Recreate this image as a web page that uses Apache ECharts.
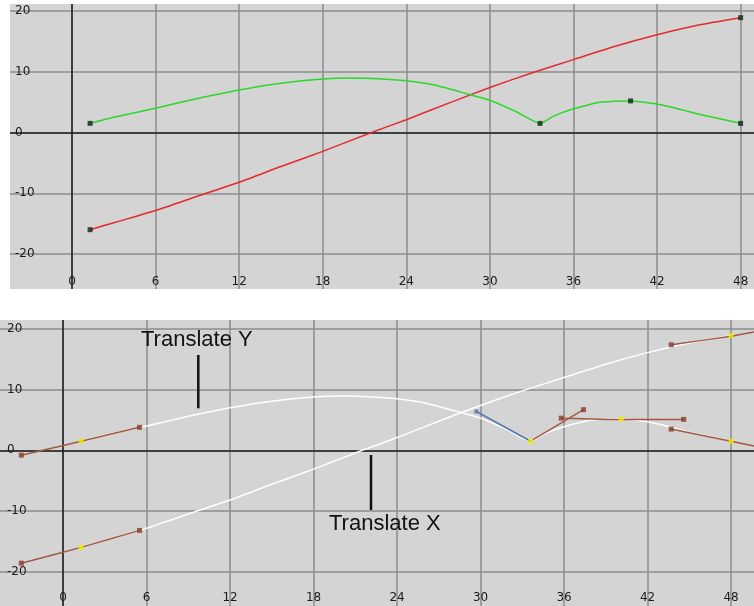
<!DOCTYPE html>
<html><head><meta charset="utf-8">
<script src="https://cdn.jsdelivr.net/npm/echarts@6/dist/echarts.min.js"></script>
<style>html,body{margin:0;padding:0;background:#fff}#c{width:754px;height:606px}</style>
</head><body><div id="c"></div>
<script>
// ---- tick labels ----
const frameTicks = [0, 6, 12, 18, 24, 30, 36, 42, 48];
const valueTicks = [-20, -10, 0, 10, 20];

// ---- Translate X curve (red / white) ----
const txFrames = [1.3, 3, 6, 9, 12, 15, 18, 21.5, 24, 27, 30, 33, 36, 39, 42, 45, 48];
const txValues = [-16.0, -14.85, -12.85, -10.5, -8.2, -5.6, -3.1, 0, 2.1, 4.8, 7.4, 9.8, 12.0, 14.2, 16.1, 17.7, 18.9];

// ---- Translate Y curve (green / white) ----
const tyFrames = [1.3, 3, 6, 9, 12, 15, 18, 20, 22, 24, 26, 28, 30, 32, 33.6, 34.5, 35, 36, 37, 38, 40.1, 42, 43, 44, 45, 46, 47, 48];
const tyValues = [1.5, 2.5, 4.0, 5.6, 7.0, 8.1, 8.8, 8.95, 8.85, 8.5, 7.8, 6.6, 5.3, 3.3, 1.5, 2.6, 3.1, 3.9, 4.5, 5.0, 5.2, 4.7, 4.2, 3.6, 3.0, 2.5, 2.0, 1.5];

// ---- keys ----
const txKeyFrames = [1.3, 48];
const txKeyValues = [-16.0, 18.9];
const tyKeyFrames = [1.3, 33.6, 40.1, 48];
const tyKeyValues = [1.5, 1.5, 5.2, 1.5];

// ---- tangent handles (lower panel) ----
const tyTanLeft  = [[-3.0, -0.8], [1.3, 1.5], [5.5, 3.8]];
const txTanLeft  = [[-3.0, -18.6], [1.3, -16.0], [5.5, -13.2]];
const txTanRight = [[43.7, 17.4], [48, 18.8], [49.65, 19.5]];
const tyTanRight = [[43.7, 3.5], [48, 1.5], [49.65, 0.7]];
const tyTanOut33 = [[33.6, 1.5], [37.4, 6.7]];
const tyTan40    = [[35.8, 5.3], [40.1, 5.1], [44.6, 5.1]];
const tyTanIn33  = [[29.7, 6.4], [33.6, 1.5]];
const handleEnds = [[-3.0, -0.8], [5.5, 3.8], [-3.0, -18.6], [5.5, -13.2], [43.7, 17.4], [43.7, 3.5], [37.4, 6.7], [35.8, 5.3], [44.6, 5.1]];
const blueHandleEnds = [[29.7, 6.4]];

const zip = (xs, ys) => xs.map((x, i) => [x, ys[i]]);
const txData = zip(txFrames, txValues);
const tyData = zip(tyFrames, tyValues);
const txKeys = zip(txKeyFrames, txKeyValues);
const tyKeys = zip(tyKeyFrames, tyKeyValues);

const FONT = 'DejaVu Sans';
const BG = '#d4d4d4';
const GRIDC = '#8c8c8c';
const ZEROC = '#1e1e1e';
const BROWN = '#a25a42';
const BROWN_D = '#8a3a28';
const YELLOW = '#eeee00';

function xAxisFor(g, min, max, margin) {
  return {
    gridIndex: g, type: 'value', min: min, max: max, position: 'bottom',
    axisLine: { show: false },
    axisTick: { show: false, customValues: frameTicks },
    axisLabel: { customValues: frameTicks, inside: true, margin: margin, verticalAlign: 'middle',
      color: '#1a1a1a', fontFamily: FONT, fontSize: 12 },
    splitLine: { show: true, lineStyle: { color: GRIDC, width: 1.5 } }
  };
}
function yAxisFor(g, min, max, margin) {
  return {
    gridIndex: g, type: 'value', min: min, max: max, position: 'left',
    axisLine: { show: false },
    axisTick: { show: false, customValues: valueTicks },
    axisLabel: { customValues: valueTicks, inside: true, margin: margin, align: 'left',
      color: '#1a1a1a', fontFamily: FONT, fontSize: 12 },
    splitLine: { show: true, lineStyle: { color: GRIDC, width: 1.5 } }
  };
}
function zeroLines(g) {
  return {
    type: 'line', xAxisIndex: g, yAxisIndex: g, data: [], silent: true,
    markLine: { z: 1, silent: true, symbol: ['none', 'none'], label: { show: false },
      lineStyle: { color: ZEROC, width: 1.5, type: 'solid' },
      data: [{ xAxis: 0 }, { yAxis: 0 }] }
  };
}
function curve(g, data, color, z) {
  return { type: 'line', xAxisIndex: g, yAxisIndex: g, data: data, showSymbol: false, smooth: 0.2,
    lineStyle: { color: color, width: 1.5 }, z: z || 2, silent: true };
}
function dots(g, data, color, size, z) {
  return { type: 'scatter', xAxisIndex: g, yAxisIndex: g, data: data, symbol: 'rect', symbolSize: size,
    itemStyle: { color: color }, z: z || 4, silent: true };
}

const chart = echarts.init(document.getElementById('c'));
chart.setOption({
  animation: false,
  backgroundColor: '#ffffff',
  grid: [
    { left: 10, top: 4, width: 744, height: 285, show: true, backgroundColor: BG, borderWidth: 0 },
    { left: 0, top: 320, width: 754, height: 286, show: true, backgroundColor: BG, borderWidth: 0 }
  ],
  xAxis: [xAxisFor(0, -4.45, 48.96, 7.5), xAxisFor(1, -4.53, 49.65, 8)],
  yAxis: [yAxisFor(0, -25.76, 21.15, 5), yAxisFor(1, -25.66, 21.48, 7)],
  series: [
    zeroLines(0),
    curve(0, txData, '#e42a2a'),
    curve(0, tyData, '#2ad82a'),
    dots(0, txKeys, '#0c2418', 5),
    dots(0, tyKeys, '#0c2418', 5),

    zeroLines(1),
    curve(1, txData, '#ffffff'),
    curve(1, tyData, '#ffffff'),
    curve(1, tyTanLeft, BROWN, 3),
    curve(1, txTanLeft, BROWN, 3),
    curve(1, txTanRight, BROWN, 3),
    curve(1, tyTanRight, BROWN, 3),
    curve(1, tyTanOut33, BROWN, 3),
    curve(1, tyTan40, BROWN, 3),
    curve(1, tyTanIn33, '#5478a8', 3),
    dots(1, handleEnds, BROWN_D, 5),
    dots(1, blueHandleEnds, '#5478a8', 4),
    dots(1, txKeys, YELLOW, 5, 5),
    dots(1, tyKeys, YELLOW, 5, 5)
  ],
  graphic: [
    { type: 'text', x: 141, y: 340, z: 100,
      style: { text: 'Translate Y', fontSize: 22, fontFamily: 'Liberation Sans', fill: '#111', align: 'left', verticalAlign: 'middle' } },
    { type: 'line', z: 100, shape: { x1: 198.3, y1: 355, x2: 198.3, y2: 408.3 }, style: { stroke: '#111', lineWidth: 2.5 } },
    { type: 'text', x: 329, y: 524, z: 100,
      style: { text: 'Translate X', fontSize: 22, fontFamily: 'Liberation Sans', fill: '#111', align: 'left', verticalAlign: 'middle' } },
    { type: 'line', z: 100, shape: { x1: 371, y1: 455, x2: 371, y2: 510 }, style: { stroke: '#111', lineWidth: 2.5 } }
  ]
});
</script>
</body></html>
